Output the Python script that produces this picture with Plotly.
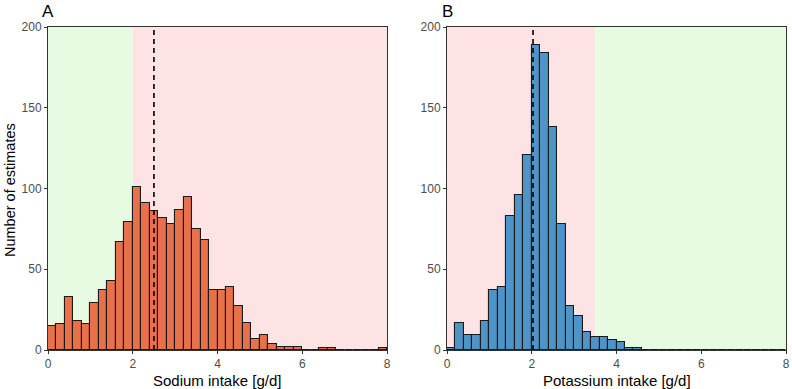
import plotly.graph_objects as go

bin_width = 0.2
bin_starts = [round(i * bin_width, 1) for i in range(40)]

sodium_counts = [15, 16, 33, 18, 16, 29, 37, 43, 67, 79,
                 101, 91, 86, 82, 78, 87, 95, 75, 68, 37,
                 37, 39, 27, 17, 7, 9, 4, 2, 2, 2,
                 0, 0, 1, 1, 0, 0, 0, 0, 0, 1]
potassium_counts = [1, 17, 9, 9, 18, 37, 39, 83, 96, 121,
                    189, 184, 138, 78, 27, 21, 11, 8, 8, 6,
                    5, 1, 1, 0, 0, 0, 0, 0, 0, 0,
                    0, 0, 0, 0, 0, 0, 0, 0, 0, 0]

sodium_ref = 2.5
potassium_ref = 2.03
sodium_limit = 2.0
potassium_limit = 3.5

x_ticks = [0, 2, 4, 6, 8]
y_ticks = [0, 50, 100, 150, 200]

centers = [s + bin_width / 2 for s in bin_starts]

GREEN = "#E6FBE1"
PINK = "#FDE3E4"
FONT = "Liberation Sans, Arial, sans-serif"

fig = go.Figure()

fig.add_trace(go.Bar(x=centers, y=sodium_counts, width=bin_width,
                     marker=dict(color="#E8714B", line=dict(color="#1a1a1a", width=1.1)),
                     xaxis="x", yaxis="y", showlegend=False))
fig.add_trace(go.Bar(x=centers, y=potassium_counts, width=bin_width,
                     marker=dict(color="#4E94C6", line=dict(color="#1a1a1a", width=1.1)),
                     xaxis="x2", yaxis="y2", showlegend=False))

shapes = [
    dict(type="rect", xref="x", yref="y", x0=0, x1=sodium_limit, y0=0, y1=200,
         fillcolor=GREEN, line_width=0, layer="below"),
    dict(type="rect", xref="x", yref="y", x0=sodium_limit, x1=8, y0=0, y1=200,
         fillcolor=PINK, line_width=0, layer="below"),
    dict(type="rect", xref="x2", yref="y2", x0=0, x1=potassium_limit, y0=0, y1=200,
         fillcolor=PINK, line_width=0, layer="below"),
    dict(type="rect", xref="x2", yref="y2", x0=potassium_limit, x1=8, y0=0, y1=200,
         fillcolor=GREEN, line_width=0, layer="below"),
    dict(type="line", xref="x", yref="y", x0=sodium_ref, x1=sodium_ref, y0=0, y1=200,
         line=dict(color="black", width=1.6, dash="5px,4px")),
    dict(type="line", xref="x2", yref="y2", x0=potassium_ref, x1=potassium_ref, y0=0, y1=200,
         line=dict(color="black", width=1.6, dash="5px,4px")),
]

W, H = 792, 389


def px(x):
    return x / W


def py(y):
    return 1 - y / H


ax_common = dict(showgrid=False, zeroline=False, showline=True, linecolor="#333333",
                 linewidth=1, mirror=True, ticks="outside", ticklen=3, tickcolor="#333333",
                 automargin=False,
                 tickfont=dict(family=FONT, size=12, color="#4D4D4D"))

fig.update_layout(
    width=W, height=H,
    margin=dict(l=0, r=0, t=0, b=0, autoexpand=False),
    plot_bgcolor="white", paper_bgcolor="white",
    bargap=0,
    shapes=shapes,
    xaxis=dict(domain=[px(48), px(387)], range=[0, 8], tickvals=x_ticks, anchor="y", **ax_common),
    yaxis=dict(domain=[py(350), py(27)], range=[0, 200], tickvals=y_ticks, anchor="x", **ax_common),
    xaxis2=dict(domain=[px(447), px(786)], range=[0, 8], tickvals=x_ticks, anchor="y2", **ax_common),
    yaxis2=dict(domain=[py(350), py(27)], range=[0, 200], tickvals=y_ticks, anchor="x2", **ax_common),
    annotations=[
        dict(text="A", x=px(40), y=py(12), xref="paper", yref="paper", showarrow=False,
             xanchor="left", yanchor="middle", font=dict(family=FONT, size=17, color="black")),
        dict(text="B", x=px(440), y=py(12), xref="paper", yref="paper", showarrow=False,
             xanchor="left", yanchor="middle", font=dict(family=FONT, size=17, color="black")),
        dict(text="Sodium intake [g/d]", x=px((48 + 387) / 2), y=py(380), xref="paper",
             yref="paper", showarrow=False, xanchor="center", yanchor="middle",
             font=dict(family=FONT, size=15, color="black")),
        dict(text="Potassium intake [g/d]", x=px((447 + 786) / 2), y=py(380), xref="paper",
             yref="paper", showarrow=False, xanchor="center", yanchor="middle",
             font=dict(family=FONT, size=15, color="black")),
        dict(text="Number of estimates", x=px(10), y=py(190), xref="paper", yref="paper",
             showarrow=False, textangle=-90, xanchor="center", yanchor="middle",
             font=dict(family=FONT, size=14.5, color="black")),
    ],
)

fig.write_html("out.html", config={"displayModeBar": False},
               post_script="document.body.style.margin='0';")
